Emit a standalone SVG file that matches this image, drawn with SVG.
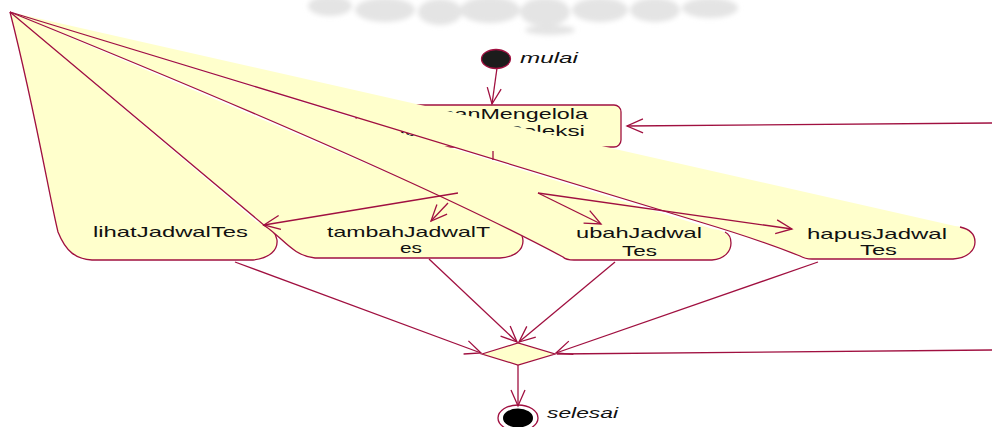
<svg xmlns="http://www.w3.org/2000/svg" width="992" height="427" viewBox="0 0 992 427">
<defs>
<style>
.fill{fill:#FFFFCC;stroke:none}
.edge{fill:none;stroke:#A01040;stroke-width:1.3}
.node{fill:#FFFFCC;stroke:#A01040;stroke-width:1.3}
.lbl{font-family:"Liberation Sans",Arial,sans-serif;font-size:15px;fill:#111}
.it{font-style:italic}
.con{fill:none;stroke:#A01040;stroke-width:1.3}
</style>
<marker id="ah" viewBox="-18 -9 20 18" refX="0" refY="0" markerWidth="20" markerHeight="18" markerUnits="userSpaceOnUse" orient="auto">
<path d="M-16,-7 L0,0 L-16,7" fill="none" stroke="#A01040" stroke-width="1.3"/>
</marker>
<filter id="blur" x="-10%" y="-50%" width="120%" height="200%"><feGaussianBlur stdDeviation="2.5"/></filter>
</defs>
<rect width="992" height="427" fill="#fff"/>
<g id="watermark" fill="#e4e4e4" filter="url(#blur)">
<ellipse cx="330" cy="6" rx="22" ry="10"/>
<ellipse cx="385" cy="10" rx="30" ry="12"/>
<ellipse cx="440" cy="12" rx="22" ry="13"/>
<ellipse cx="490" cy="10" rx="30" ry="13"/>
<ellipse cx="545" cy="12" rx="25" ry="14"/>
<ellipse cx="600" cy="10" rx="28" ry="12"/>
<ellipse cx="655" cy="10" rx="25" ry="12"/>
<ellipse cx="710" cy="8" rx="28" ry="10"/>
<ellipse cx="550" cy="30" rx="25" ry="5"/>
</g>
<g id="node-start">
<ellipse cx="496" cy="59" rx="14.5" ry="9.5" fill="#1c1c1c" stroke="#A01040" stroke-width="1.3"/>
<text class="lbl it" x="520" y="63" textLength="58" lengthAdjust="spacingAndGlyphs">mulai</text>
</g>
<g id="node-mengelola">
<rect class="node" x="356" y="105" width="265" height="42" rx="7"/>
<text class="lbl" x="391" y="119" textLength="197" lengthAdjust="spacingAndGlyphs">halamanMengelola</text>
<text class="lbl" x="393" y="136" textLength="192" lengthAdjust="spacingAndGlyphs">JadwalTesSeleksi</text>
</g>
<g id="node-lihat">
<path class="fill" d="M10,12 C35,110 50,200 58,232 C66,252 76,259 92,260 L253,260 C270,258 278,250 277,240 C276,230 268,224 257,222 Z"/>
<path class="edge" d="M10,12 C35,110 50,200 58,232 C66,252 76,259 92,260 L253,260 C270,258 278,250 277,240 C276,232 271,228 263,225"/>
<text class="lbl" x="93" y="237" textLength="155" lengthAdjust="spacingAndGlyphs">lihatJadwalTes</text>
</g>
<g id="node-tambah">
<path class="fill" d="M10,12 L265,226 C283,238 293,256 315,258 L500,258 C515,257 523,250 523,241 C523,232 518,227 510,225 Z"/>
<path class="edge" d="M10,12 L265,226 C283,238 293,256 315,258 L500,258 C515,257 523,250 523,241 C523,239 523,238 522,236"/>
<text class="lbl" x="327" y="237" textLength="163" lengthAdjust="spacingAndGlyphs">tambahJadwalT</text>
<text class="lbl" x="400" y="253" textLength="22" lengthAdjust="spacingAndGlyphs">es</text>
</g>
<g id="node-ubah">
<path class="fill" d="M10,12 Q400,170 563,257 Q566,260 574,260 L712,260 C725,259 731,251 731,243 C731,235 724,230 713,229 Z"/>
<path class="edge" d="M10,12 Q400,170 563,257 Q566,260 574,260 L712,260 C725,259 731,251 731,243 C731,238 729,234 725,232"/>
<text class="lbl" x="576" y="238" textLength="126" lengthAdjust="spacingAndGlyphs">ubahJadwal</text>
<text class="lbl" x="622" y="256" textLength="35" lengthAdjust="spacingAndGlyphs">Tes</text>
</g>
<g id="node-hapus">
<path class="fill" d="M10,12 L700,222 C760,240 790,252 800,256 Q805,259 812,259 L953,259 C968,258 975,250 975,242 C975,233 966,227 955,226 Z"/>
<path class="edge" d="M10,12 L700,222 C760,240 790,252 800,256 Q805,259 812,259 L953,259 C968,258 975,250 975,242 C975,234 969,229 960,227"/>
<text class="lbl" x="807" y="239" textLength="140" lengthAdjust="spacingAndGlyphs">hapusJadwal</text>
<text class="lbl" x="860" y="255" textLength="37" lengthAdjust="spacingAndGlyphs">Tes</text>
</g>
<g id="node-merge">
<path class="node" d="M482,354 L518,343 L555,354 L518,365 Z"/>
</g>
<g id="node-end">
<ellipse cx="518" cy="418" rx="20" ry="13" fill="#fff" stroke="#A01040" stroke-width="1.3"/>
<ellipse cx="518" cy="418" rx="15" ry="9.5" fill="#000"/>
<text class="lbl it" x="547" y="418" textLength="71" lengthAdjust="spacingAndGlyphs">selesai</text>
</g>
<g id="connectors">
<path class="con" d="M497,68 L492,104" marker-end="url(#ah)"/>
<path class="con" d="M992,123 L627,126" marker-end="url(#ah)"/>
<path class="con" d="M493,151 L493,160"/>
<path class="con" d="M458,193 L264,225" marker-end="url(#ah)"/>
<path class="con" d="M448,203 L431,221" marker-end="url(#ah)"/>
<path class="con" d="M538,193 L601,224" marker-end="url(#ah)"/>
<path class="con" d="M538,193 L792,229" marker-end="url(#ah)"/>
<path class="con" d="M235,262 L481,353" marker-end="url(#ah)"/>
<path class="con" d="M429,259 L517,342" marker-end="url(#ah)"/>
<path class="con" d="M615,262 L519,342" marker-end="url(#ah)"/>
<path class="con" d="M818,262 L556,353" marker-end="url(#ah)"/>
<path class="con" d="M992,350 L557,354"/>
<path class="con" d="M518,365 L518,406" marker-end="url(#ah)"/>
</g>
</svg>
